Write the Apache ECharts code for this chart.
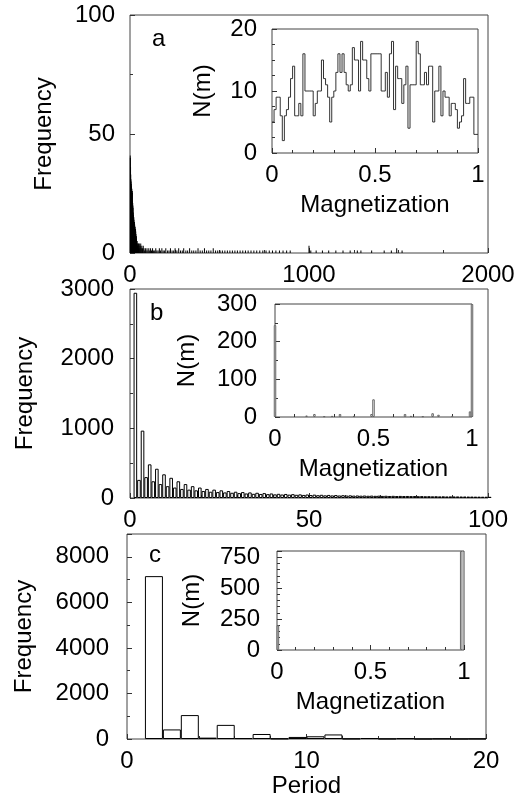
<!DOCTYPE html>
<html><head><meta charset="utf-8">
<script src="https://cdn.jsdelivr.net/npm/echarts@6/dist/echarts.min.js"></script>
<style>html,body{margin:0;padding:0;background:#fff}#c{width:518px;height:806px}</style>
</head><body><div id="c"></div>
<script>
// Panel a: period histogram (period, frequency)
const periodA = [1,2,3,4,5,6,7,8,9,10,11,12,13,14,15,16,17,18,19,20,21,22,23,24,25,26,27,28,29,30,31,32,33,34,35,36,37,38,39,40,
 42,44,46,48,50,52,55,57,60,63,66,70,74,78,82,86,90,95,100,105,110,115,120,126,132,138,144,150,157,164,170,178,185,192,200,210,218,226,235,244,252,262,272,282,292,300,312,322,333,345,356,368,380,392,404,416,428,440,452,465,478,490,503,516,530,544,558,572,586,600,615,630,645,660,676,692,708,725,742,760,778,796,815,835,855,875,895,1000,1010,1040,1075,1110,1150,1190,1230,1270,1290,1350,1420,1460,1490,1520];
const freqA = [41,40,36,33,31,30,29,28,27,27,26,26,25,22,21,20,19,17,16,15,15,14,13,13,12,12,11,11,10,10,10,9,8,7,7,6,5,5,5,4,
 3,4,2,4,3,4,2,3,4,2,3,2,3,2,1,2,1,2,1,2,1,2,1,2,1,1,2,1,1,2,1,2,1,1,2,1,1,2,1,1,2,1,2,1,1,2,1,1,2,1,1,1,2,1,1,2,1,1,1,2,1,1,1,1,1,1,1,1,1,1,1,1,1,1,1,1,1,1,1,1,1,1,1,1,1,1,1,3,1,1,1,1,1,1,1,1,1,1,1,1,2,1];
// Inset a: N(m) per magnetization bin (bin width 0.01)
const nmA = [5,7,9,9,6,2,6,7,9,12,14,6,6,8,6,16,10,10,10,10,6,8,10,10,15,12,11,9,5,9,10,13,16,13,16,13,11,10,11,17,
 15,15,10,18,15,15,12,10,16,16,16,16,16,10,10,13,9,16,18,7,14,12,12,8,11,14,4,11,11,11,18,16,11,11,13,11,14,14,5,10,
 10,14,6,10,9,9,6,8,8,7,4,5,6,12,8,8,9,9,3,3];
// Panel b: frequency for periods 1..100
const freqB = [2946,260,967,300,483,240,420,200,340,170,
 290,150,240,130,200,120,170,110,150,100,
 130,90,120,85,110,80,100,75,90,70,
 85,65,80,60,75,58,70,55,65,52,
 60,50,58,48,55,46,52,44,50,42,
 48,40,46,38,44,37,42,36,40,35,
 38,34,36,33,35,32,34,31,33,30,
 32,29,31,28,30,28,29,27,28,26,
 27,25,26,24,25,23,24,22,23,22,
 22,21,21,20,20,19,19,18,18,17];
// Inset b
const magB = [0,0.16,0.2,0.25,0.29,0.33,0.4,0.49,0.5,0.66,0.69,0.75,0.8,0.83,0.9,0.99,1];
const nmB  = [244,4,8,2,3,8,3,8,47,8,3,2,10,6,3,15,300];
// Panel c: frequency for periods 1..19
const freqC = [7150,420,1050,60,620,40,220,20,90,120,200,15,40,10,30,5,15,5,10];
// Inset c
const magC = [0.005,0.985];
const nmC  = [200,800];

const FONT = 'Liberation Sans';
const AX = '#333';
const plain = v => String(v);
function axis(gi, min, max, interval, minorSplit, margin, extra, fmt) {
  return Object.assign({
    type: 'value', gridIndex: gi, min: min, max: max, interval: interval,
    axisLine: {show: false},
    axisTick: {show: true, inside: true, length: 5, lineStyle: {color: AX}},
    minorTick: {show: true, splitNumber: minorSplit, length: 3, lineStyle: {color: AX}},
    splitLine: {show: false}, minorSplitLine: {show: false},
    axisLabel: {fontSize: 24, fontFamily: FONT, color: '#000', margin: margin, formatter: fmt || plain},
    nameTextStyle: {fontSize: 24, fontFamily: FONT, color: '#000'}
  }, extra || {});
}
const grid = (l, t, w, h, inset) => ({left: l, top: t, width: w, height: h, show: true,
  borderColor: '#444', borderWidth: 1, backgroundColor: inset ? '#fff' : 'transparent', containLabel: false});

const hideAbove = lim => (v => v > lim ? '' : String(v));

const chart = echarts.init(document.getElementById('c'), null, {renderer: 'canvas'});
chart.setOption({
  animation: false,
  backgroundColor: '#fff',
  grid: [
    grid(130, 15, 358, 238, false),
    grid(272, 29, 206, 124, true),
    grid(130, 289, 358, 209, false),
    grid(275, 304, 197, 113, true),
    grid(127, 534, 359, 205, false),
    grid(277, 551, 187, 99, true)
  ],
  xAxis: [
    axis(0, 0, 2000, 1000, 4, 10),
    axis(1, 0, 1, 0.5, 5, 10, {name: 'Magnetization', nameLocation: 'middle', nameGap: 40}),
    axis(2, 0, 100, 50, 5, 10),
    axis(3, 0, 1, 0.5, 5, 10, {name: 'Magnetization', nameLocation: 'middle', nameGap: 40}),
    axis(4, 0, 20, 10, 5, 10, {name: 'Period', nameLocation: 'middle', nameGap: 34}),
    axis(5, 0, 1, 0.5, 5, 10, {name: 'Magnetization', nameLocation: 'middle', nameGap: 40})
  ],
  yAxis: [
    axis(0, 0, 100, 50, 2, 15, {name: 'Frequency', nameLocation: 'middle', nameGap: 74}),
    axis(1, 0, 20, 10, 4, 15, {name: 'N(m)', nameLocation: 'middle', nameGap: 57}),
    axis(2, 0, 3000, 1000, 2, 16, {name: 'Frequency', nameLocation: 'middle', nameGap: 93}),
    axis(3, 0, 300, 100, 2, 18, {name: 'N(m)', nameLocation: 'middle', nameGap: 76}),
    axis(4, 0, 9000, 2000, 2, 18, {name: 'Frequency', nameLocation: 'middle', nameGap: 91}, hideAbove(8000)),
    axis(5, 0, 800, 250, 5, 17, {name: 'N(m)', nameLocation: 'middle', nameGap: 73}, hideAbove(750))
  ],
  series: [
    {type: 'bar', xAxisIndex: 0, yAxisIndex: 0, barWidth: 1, itemStyle: {color: '#000'},
      data: periodA.map((p, i) => [p, freqA[i]])},
    {type: 'line', xAxisIndex: 1, yAxisIndex: 1, step: 'end', symbol: 'none',
      lineStyle: {color: '#333', width: 1},
      data: nmA.map((v, i) => [i * 0.01, v]).concat([[1, nmA[nmA.length - 1]]])},
    {type: 'bar', xAxisIndex: 2, yAxisIndex: 2, barWidth: 3.6,
      itemStyle: {color: '#fff', borderColor: '#000', borderWidth: 1},
      data: freqB.map((v, i) => [i + 1.5, v])},
    {type: 'bar', xAxisIndex: 3, yAxisIndex: 3, barWidth: 2.5, clip: false,
      itemStyle: {color: '#fff', borderColor: '#666', borderWidth: 1},
      data: magB.map((m, i) => [m, nmB[i]])},
    {type: 'bar', xAxisIndex: 4, yAxisIndex: 4, barWidth: 18,
      itemStyle: {color: '#fff', borderColor: '#000', borderWidth: 1},
      data: freqC.map((v, i) => [i + 1.5, v])},
    {type: 'bar', xAxisIndex: 5, yAxisIndex: 5, barWidth: 2.5, clip: false,
      itemStyle: {color: '#fff', borderColor: '#666', borderWidth: 1},
      data: magC.map((m, i) => [m, nmC[i]])}
  ],
  graphic: [
    {type: 'text', left: 152, top: 27, style: {text: 'a', fontSize: 24, fontFamily: FONT, fill: '#000'}},
    {type: 'text', left: 150, top: 301, style: {text: 'b', fontSize: 24, fontFamily: FONT, fill: '#000'}},
    {type: 'text', left: 149, top: 543, style: {text: 'c', fontSize: 24, fontFamily: FONT, fill: '#000'}}
  ]
});
</script></body></html>
